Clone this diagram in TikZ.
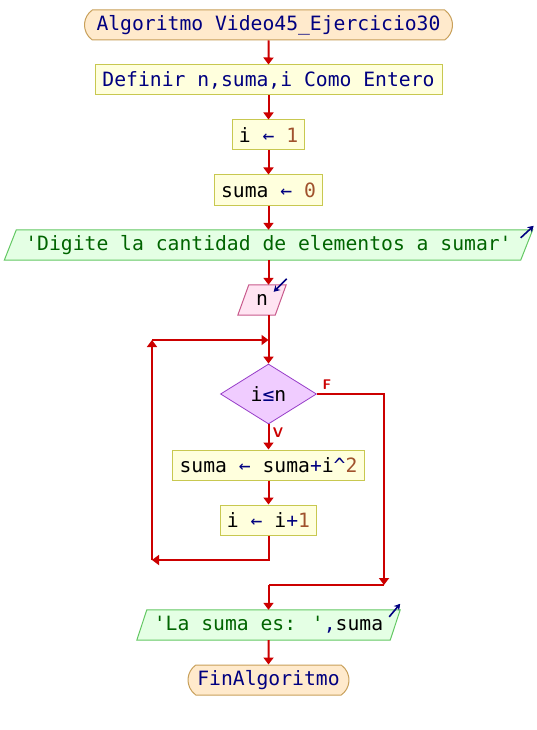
\documentclass[tikz,border=0pt]{standalone}
\usepackage{fontspec}
\newfontfamily\mono{DejaVu Sans Mono}[Ligatures=TeXOff]
\usetikzlibrary{arrows.meta,shapes.geometric,shapes.misc,backgrounds,calc}
\definecolor{kw}{RGB}{0,0,128}
\definecolor{ident}{RGB}{0,0,0}
\definecolor{num}{RGB}{160,82,45}
\definecolor{str}{RGB}{0,100,0}
\definecolor{flowc}{RGB}{204,0,0}
\definecolor{termf}{RGB}{255,234,204}
\definecolor{termd}{RGB}{200,160,90}
\definecolor{procf}{RGB}{255,255,221}
\definecolor{procd}{RGB}{200,200,80}
\definecolor{inf}{RGB}{255,228,242}
\definecolor{ind}{RGB}{200,90,140}
\definecolor{outf}{RGB}{228,255,228}
\definecolor{outd}{RGB}{100,200,100}
\definecolor{condf}{RGB}{240,204,255}
\definecolor{condd}{RGB}{150,60,200}
\begin{document}
\begin{tikzpicture}[x=1pt,y=-1pt,
  base/.style={font=\mono\fontsize{19.7}{22}\selectfont, inner sep=0pt, minimum height=30pt, text=ident},
  term/.style={base, draw=termd, fill=termf, rounded rectangle, rounded rectangle arc length=110, line width=1pt, text=kw},
  proc/.style={base, draw=procd, fill=procf, rectangle, line width=1pt},
  io/.style={base},
  cond/.style={base, diamond, draw=condd, fill=condf, line width=0.8pt, minimum width=96pt, minimum height=60pt},
  flow/.style={draw=flowc, line width=2pt, -{Triangle[width=10pt,length=7pt]}},
  flowline/.style={draw=flowc, line width=2pt},
  corner/.style={draw=kw, line width=1.6pt, -{Stealth[length=6pt,width=7pt]}},
  lab/.style={font=\sffamily\bfseries\fontsize{14}{15}\selectfont, text=flowc, inner sep=0pt}
]
\useasboundingbox (0,0) rectangle (536,730);

\node[term, minimum width=368pt] (start) at (268.5,25) {Algoritmo Video45\_Ejercicio30};
\node[proc, minimum width=347pt, text=kw] (def) at (268.5,80) {Definir n,suma,i Como Entero};
\node[proc, minimum width=72pt] (i1) at (268.5,135) {i \textcolor{kw}{←} \textcolor{num}{1}};
\node[proc, minimum width=108pt] (s0) at (268.5,190) {suma \textcolor{kw}{←} \textcolor{num}{0}};
\node[io, minimum width=516pt] (dig) at (268.5,245) {\textcolor{str}{'Digite la cantidad de elementos a sumar'}};
\node[io, minimum width=37pt] (n) at (262,300) {n};
\node[cond] (cond) at (268.5,394) {i\textcolor{kw}{≤}n};
\node[proc, minimum width=192pt] (body) at (268.5,465) {suma \textcolor{kw}{←} suma\textcolor{kw}{+}i\textcolor{kw}{\textasciicircum}\textcolor{num}{2}};
\node[proc, minimum width=96pt] (inc) at (268.5,520) {i \textcolor{kw}{←} i\textcolor{kw}{+}\textcolor{num}{1}};
\node[io, minimum width=253pt] (out) at (268.5,625) {\textcolor{str}{'La suma es: '}\textcolor{kw}{,}suma};
\node[term, minimum width=161pt] (fin) at (268.5,680) {FinAlgoritmo};

\begin{scope}[on background layer]
  \fill[white] (0,0) rectangle (536,730);
  \draw[draw=outd, fill=outf, line width=1pt]
    ($(dig.south west)+(-6,0)$) -- ($(dig.north west)+(6,0)$) -- ($(dig.north east)+(6,0)$) -- ($(dig.south east)+(-6,0)$) -- cycle;
  \draw[draw=ind, fill=inf, line width=1pt]
    ($(n.south west)+(-5.5,0)$) -- ($(n.north west)+(5.5,0)$) -- ($(n.north east)+(5.5,0)$) -- ($(n.south east)+(-5.5,0)$) -- cycle;
  \draw[draw=outd, fill=outf, line width=1pt]
    ($(out.south west)+(-5,0)$) -- ($(out.north west)+(5,0)$) -- ($(out.north east)+(5,0)$) -- ($(out.south east)+(-5,0)$) -- cycle;
\end{scope}

\draw[corner] ($(dig.north east)+(-6,8)$) -- ($(dig.north east)+(7,-4)$);
\draw[corner] ($(n.north east)+(6,-6)$) -- ($(n.north east)+(-7,7)$);
\draw[corner] ($(out.north east)+(-6,7)$) -- ($(out.north east)+(5,-6)$);

\coordinate (lb) at (152,560);
\coordinate (lt) at (152,340);
\coordinate (lj) at (268.5,340);
\coordinate (rb) at (384,585);
\coordinate (mj) at (268.5,585);

\draw[flow] (start) -- (def);
\draw[flow] (def) -- (i1);
\draw[flow] (i1) -- (s0);
\draw[flow] (s0) -- (dig);
\draw[flow] (dig.south) -- (dig.south |- n.north);
\draw[flow] (dig.south |- n.south) -- (cond);
\draw[flow] (cond) -- (body);
\draw[flow] (body) -- (inc);
\draw[flow] (inc) |- (lb);
\draw[flow] (lb) -- (lt);
\draw[flow] (lt) -- (lj);
\draw[flow] (cond.east) -| (rb);
\draw[flowline] (rb) -- (mj);
\draw[flow] (mj) -- (out);
\draw[flow] (out) -- (fin);

\node[lab] (fl) at (327,385) {F};
\node[lab] (vl) at (278,433) {V};
\end{tikzpicture}
\end{document}
